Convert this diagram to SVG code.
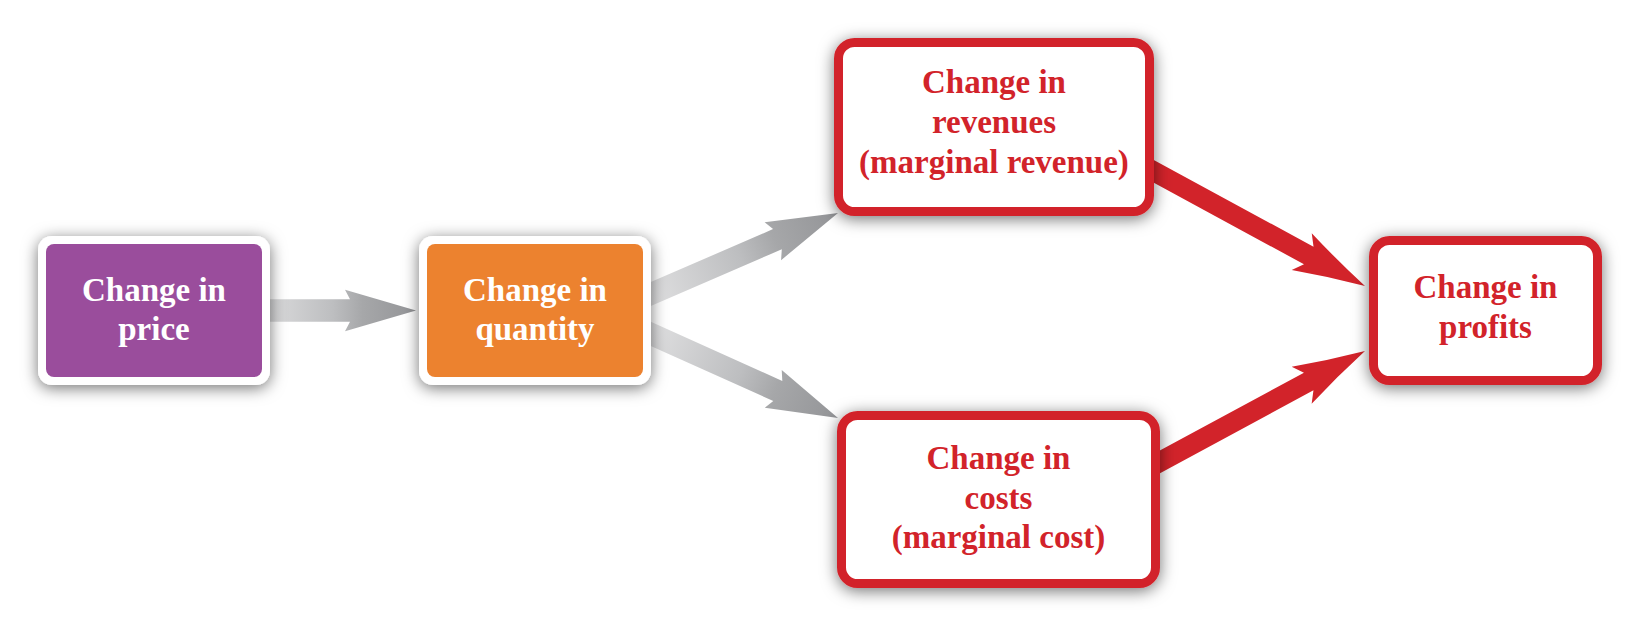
<svg xmlns="http://www.w3.org/2000/svg" width="1641" height="628" viewBox="0 0 1641 628">
  <defs>
    <style>
      .lbl { font-family: "Liberation Serif", "Times New Roman", serif; font-weight: bold; font-size: 33px; text-anchor: middle; }
      .white { fill: #ffffff; }
      .red { fill: #d2232a; }
      .redbox { fill: #ffffff; stroke: #d2232a; stroke-width: 9; }
      .frame { fill: #ffffff; }
      .grayarrow { fill: url(#grayGrad); }
      .redarrow { fill: #d2232a; }
    </style>
    <linearGradient id="grayGrad" x1="0" y1="0" x2="1" y2="0">
      <stop offset="0" stop-color="#e2e2e3"/>
      <stop offset="0.5" stop-color="#bdbec0"/>
      <stop offset="0.68" stop-color="#a6a7a9"/>
      <stop offset="1" stop-color="#939497"/>
    </linearGradient>
    <filter id="shadow" x="-25%" y="-35%" width="150%" height="170%">
      <feDropShadow dx="0" dy="3" stdDeviation="8" flood-color="#000000" flood-opacity="0.55"/>
    </filter>
  </defs>
  <rect width="1641" height="628" fill="#ffffff"/>

  <g id="connectors">
    <path class="grayarrow" transform="translate(416,310.5)" d="M 0 0 L -71 -20.7 L -66 -11.3 L -166 -11.3 L -166 11.3 L -66 11.3 L -71 20.7 Z"/>
    <path class="grayarrow" transform="translate(838,213) rotate(-23.4)" d="M 0 0 L -71 -20.7 L -66 -11 L -215 -11 L -215 11 L -66 11 L -71 20.7 Z"/>
    <path class="grayarrow" transform="translate(838,418) rotate(24.2)" d="M 0 0 L -71 -20.7 L -66 -11 L -215 -11 L -215 11 L -66 11 L -71 20.7 Z"/>
    <path class="redarrow" transform="translate(1365,286) rotate(28.5)" d="M 0 0 Q -36 -9 -72 -21 L -64 -10 L -250 -10 L -250 10 L -64 10 L -72 21 Q -36 9 0 0 Z"/>
    <path class="redarrow" transform="translate(1365,351) rotate(-28.4)" d="M 0 0 Q -36 -9 -72 -21 L -64 -10 L -250 -10 L -250 10 L -64 10 L -72 21 Q -36 9 0 0 Z"/>
  </g>

  <g id="node-price">
    <rect class="frame" x="38" y="236" width="232" height="149" rx="14" filter="url(#shadow)"/>
    <rect x="46" y="244" width="216" height="133" rx="8" fill="#9a4d9c"/>
    <text class="lbl white" x="154" y="301">Change in</text>
    <text class="lbl white" x="154" y="340">price</text>
  </g>

  <g id="node-quantity">
    <rect class="frame" x="419" y="236" width="232" height="149" rx="14" filter="url(#shadow)"/>
    <rect x="427" y="244" width="216" height="133" rx="8" fill="#ec822f"/>
    <text class="lbl white" x="535" y="301">Change in</text>
    <text class="lbl white" x="535" y="340">quantity</text>
  </g>

  <g id="node-revenues">
    <rect class="redbox" x="838.5" y="42.5" width="311" height="169" rx="16" filter="url(#shadow)"/>
    <text class="lbl red" x="994" y="93">Change in</text>
    <text class="lbl red" x="994" y="133">revenues</text>
    <text class="lbl red" x="994" y="173">(marginal revenue)</text>
  </g>

  <g id="node-costs">
    <rect class="redbox" x="841.5" y="415.5" width="314" height="168" rx="16" filter="url(#shadow)"/>
    <text class="lbl red" x="998.5" y="469">Change in</text>
    <text class="lbl red" x="998.5" y="509">costs</text>
    <text class="lbl red" x="998.5" y="548">(marginal cost)</text>
  </g>

  <g id="node-profits">
    <rect class="redbox" x="1373.5" y="240.5" width="224" height="140" rx="16" filter="url(#shadow)"/>
    <text class="lbl red" x="1485.5" y="298">Change in</text>
    <text class="lbl red" x="1485.5" y="338">profits</text>
  </g>
</svg>
